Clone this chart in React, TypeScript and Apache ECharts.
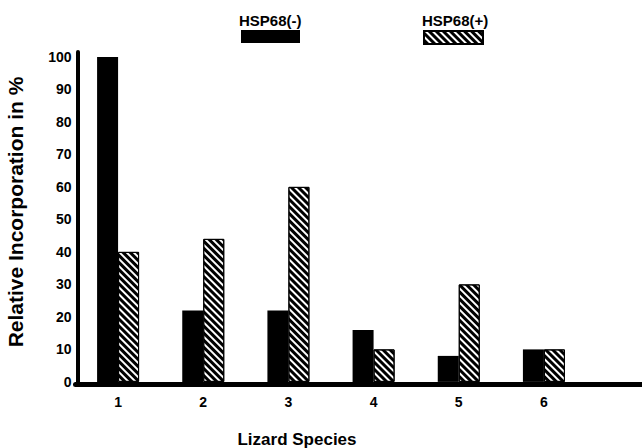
import React, { useEffect, useRef } from "react";
import * as echarts from "echarts";

const categories = ["1", "2", "3", "4", "5", "6"];
const hspMinus = [100, 22, 22, 16, 8, 10];
const hspPlus = [40, 44, 60, 10, 30, 10];
const yTicks = [0, 10, 20, 30, 40, 50, 60, 70, 80, 90, 100];
const seriesNames = ["HSP68(-)", "HSP68(+)"];

const FONT = "'Liberation Sans', Arial, sans-serif";

export default function App() {
  const ref = useRef<HTMLDivElement>(null);
  useEffect(() => {
    if (!ref.current) return;
    const chart = echarts.init(ref.current, null, { renderer: "svg" });
    const gridBase = { left: 75.5, top: 52, bottom: 63.5 };
    const decal = {
      symbol: "rect",
      symbolSize: 1,
      dashArrayX: [1, 0],
      dashArrayY: [2.5, 2],
      rotation: Math.PI / 4,
      color: "#000",
    };
    chart.setOption({
      animation: false,
      backgroundColor: "#fff",
      textStyle: { fontFamily: FONT },
      grid: [
        { ...gridBase, right: 55.5 },
        { ...gridBase, right: 0 },
      ],
      legend: [
        {
          data: [seriesNames[0]],
          left: 241,
          top: 30,
          padding: 0,
          itemWidth: 59,
          itemHeight: 13,
          icon: "rect",
          formatter: () => "",
          selectedMode: false,
        },
        {
          data: [seriesNames[1]],
          left: 423,
          top: 30,
          padding: 0,
          itemWidth: 59,
          itemHeight: 13,
          icon: "rect",
          formatter: () => "",
          selectedMode: false,
        },
      ],
      xAxis: [
        {
          type: "category",
          gridIndex: 0,
          data: categories,
          axisLine: { show: false },
          axisTick: { show: false },
          axisLabel: {
            margin: 10,
            fontSize: 14,
            fontWeight: "bold",
            color: "#000",
            fontFamily: FONT,
          },
        },
        {
          type: "value",
          gridIndex: 1,
          min: 0,
          max: 1,
          axisLine: { show: true, onZero: false, lineStyle: { color: "#000", width: 5 } },
          axisTick: { show: false },
          axisLabel: { show: false },
          splitLine: { show: false },
        },
      ],
      yAxis: [
        {
          type: "value",
          gridIndex: 0,
          min: -0.8,
          max: 101.5,
          offset: -2,
          axisLine: { show: true, lineStyle: { color: "#000", width: 4 } },
          axisTick: { show: false },
          splitLine: { show: false },
          axisLabel: {
            customValues: yTicks,
            formatter: (v: number) => (yTicks.indexOf(v) >= 0 ? String(v) : ""),
            margin: 6,
            fontSize: 14,
            fontWeight: "bold",
            color: "#000",
            fontFamily: FONT,
          },
        },
        {
          type: "value",
          gridIndex: 1,
          min: 0,
          max: 1,
          show: false,
        },
      ],
      series: [
        {
          name: seriesNames[0],
          type: "bar",
          xAxisIndex: 0,
          yAxisIndex: 0,
          data: hspMinus,
          barWidth: 21,
          barGap: "0%",
          itemStyle: { color: "#000" },
        },
        {
          name: seriesNames[1],
          type: "bar",
          xAxisIndex: 0,
          yAxisIndex: 0,
          data: hspPlus,
          barWidth: 21,
          barGap: "0%",
          itemStyle: {
            color: "#fff",
            borderColor: "#000",
            borderWidth: 1,
            decal,
          },
        },
      ],
      graphic: [
        {
          type: "text",
          left: 239,
          top: 13,
          style: { text: seriesNames[0], font: `bold 15px ${FONT}`, fill: "#000" },
        },
        {
          type: "text",
          left: 422,
          top: 13,
          style: { text: seriesNames[1], font: `bold 15px ${FONT}`, fill: "#000" },
        },
        {
          type: "text",
          x: 15,
          y: 212,
          rotation: Math.PI / 2,
          style: {
            text: "Relative Incorporation in %",
            font: `bold 21px ${FONT}`,
            fill: "#000",
            align: "center",
            verticalAlign: "middle",
          },
        },
        {
          type: "text",
          x: 297,
          y: 439,
          style: {
            text: "Lizard Species",
            font: `bold 17px ${FONT}`,
            fill: "#000",
            align: "center",
            verticalAlign: "middle",
          },
        },
      ],
    });
    return () => chart.dispose();
  }, []);
  return (
    <div
      ref={ref}
      style={{ position: "fixed", left: 0, top: 0, width: 642, height: 448 }}
    />
  );
}
